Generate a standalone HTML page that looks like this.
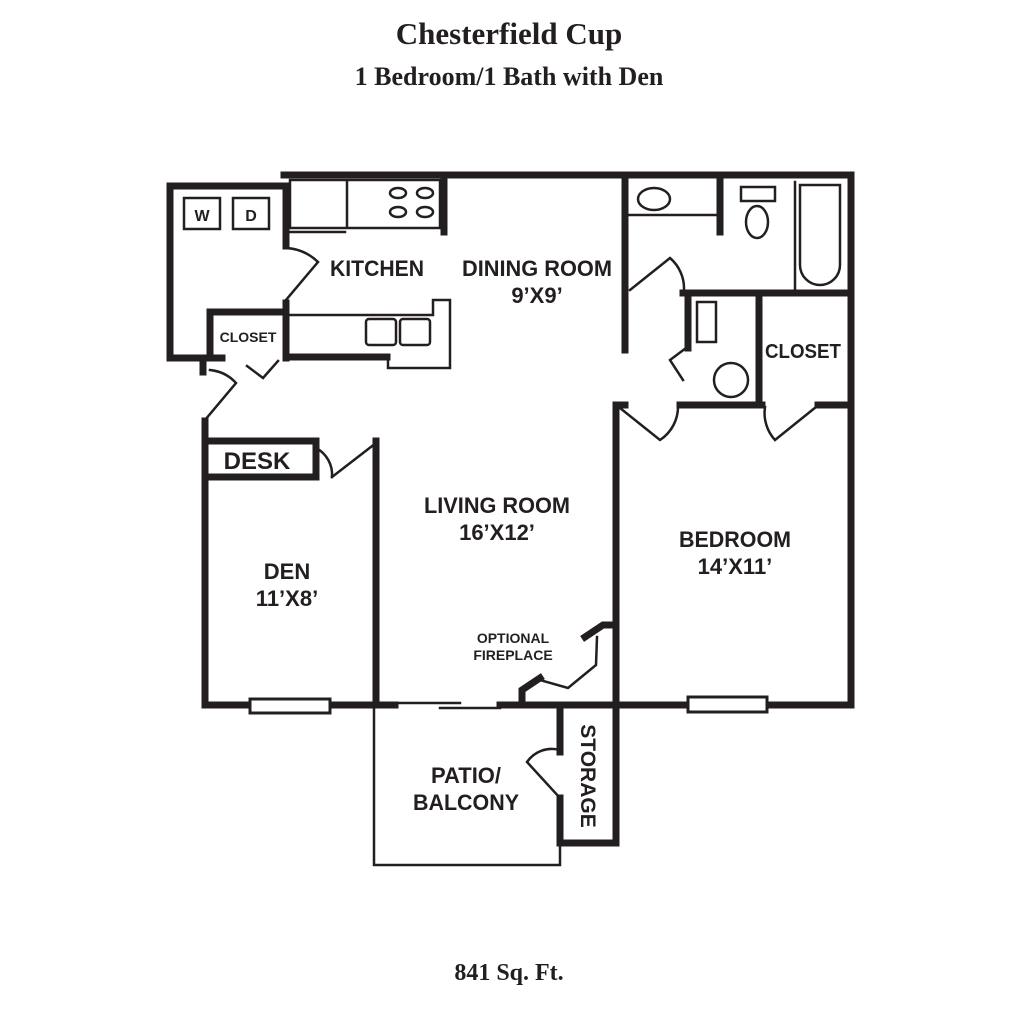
<!DOCTYPE html>
<html><head><style>
html,body{margin:0;padding:0;background:#fff}
svg{display:block}
.t{font-family:"Liberation Serif",serif;font-weight:bold;fill:#231f20}
.l{font-family:"Liberation Sans",sans-serif;font-weight:bold;fill:#231f20}
</style></head><body>
<svg width="1024" height="1024" viewBox="0 0 1024 1024" xmlns="http://www.w3.org/2000/svg">
<text class="t" x="509" y="44" font-size="31" text-anchor="middle">Chesterfield Cup</text>
<text class="t" x="509" y="85" font-size="26" text-anchor="middle">1 Bedroom/1 Bath with Den</text>
<text class="t" x="509" y="980" font-size="24" text-anchor="middle">841 Sq. Ft.</text>

<g stroke="#231f20" fill="none" stroke-linecap="square">
<g stroke-width="7">
<path d="M284 175 H851 V705"/>
<path d="M170 186 H286 V246 M286 303 V358 M170 186 V358 H222"/>
<path d="M210 358 V312 H286"/>
<path d="M286 357 H387"/>
<path d="M203 360 V372"/>
<path d="M205 421 V705 H250 M330 705 H395"/>
<path d="M500 705 H688 M767 705 H851"/>
<path d="M376 441 V705"/>
<path d="M205 441 H316 V477 H205"/>
<path d="M444 175 V232"/>
<path d="M625 175 V350"/>
<path d="M720 175 V232"/>
<path d="M683 293 H851"/>
<path d="M688 293 V348"/>
<path d="M759 293 V405"/>
<path d="M680 405 H762 M818 405 H851"/>
<path d="M616 405 V705 M616 405 H625"/>
<path d="M560 705 V752 M560 798 V843 H616 V705"/>
<path d="M614 625 H603 L585 637"/>
<path d="M540 678 L522 690 V705"/>
</g>
<g stroke-width="2.5">
<path d="M597 637 L596 665 L568 688 L540 680"/>
<path d="M290 180 H440 V228 H290 Z M347 180 V228"/>
<path d="M290 232 H345"/>
<path d="M290 315 H433 V300 H450 V368 H388 V355"/>
<rect x="366" y="319" width="30" height="26" rx="3"/>
<rect x="400" y="319" width="30" height="26" rx="3"/>
<rect x="184" y="198" width="36" height="31"/>
<rect x="233" y="198" width="36" height="31"/>
<ellipse cx="398" cy="193" rx="8" ry="5"/><ellipse cx="425" cy="193" rx="8" ry="5"/>
<ellipse cx="398" cy="212" rx="8" ry="5"/><ellipse cx="425" cy="212" rx="8" ry="5"/>
<path d="M625 215 H718"/>
<ellipse cx="654" cy="199" rx="16" ry="11"/>
<rect x="741" y="187" width="34" height="14"/>
<ellipse cx="757" cy="222" rx="11" ry="16"/>
<path d="M795 182 V290 M800 185 H840 V265 A20 20 0 0 1 800 265 Z"/>
<rect x="697" y="302" width="19" height="40"/>
<circle cx="731" cy="380" r="17"/>
<path d="M286 248 A50 50 0 0 1 318 262 M318 262 L286 300"/>
<path d="M210 370 A40 40 0 0 1 236 383 L205 420"/>
<path d="M247 366 L263 378 L278 361"/>
<path d="M316 448 A30 30 0 0 1 332 477 M332 477 L376 443"/>
<path d="M630 290 L670 258 A40 40 0 0 1 684 290"/>
<path d="M686 348 L670 360 L683 380"/>
<path d="M620 408 L660 440 A40 40 0 0 0 678 405"/>
<path d="M775 440 L816 407 M765 407 A40 40 0 0 0 775 440"/>
<path d="M560 750 A30 30 0 0 0 527 762 L560 798"/>
<path d="M374 705 V865 H560 V843"/>
<path d="M395 703 H460 M440 708 H500"/>
</g>
<rect x="250" y="699" width="80" height="14" fill="#fff" stroke-width="3"/>
<rect x="688" y="697" width="79" height="15" fill="#fff" stroke-width="3"/>
</g>

<g class="l">
<text x="202" y="221" font-size="16" text-anchor="middle">W</text>
<text x="251" y="221" font-size="16" text-anchor="middle">D</text>
<text x="377" y="276" font-size="22" text-anchor="middle" textLength="94" lengthAdjust="spacingAndGlyphs">KITCHEN</text>
<text x="537" y="276" font-size="22" text-anchor="middle" textLength="150" lengthAdjust="spacingAndGlyphs">DINING ROOM</text>
<text x="537" y="303" font-size="22" text-anchor="middle">9’X9’</text>
<text x="248" y="342" font-size="14" text-anchor="middle">CLOSET</text>
<text x="803" y="358" font-size="20" text-anchor="middle" textLength="76" lengthAdjust="spacingAndGlyphs">CLOSET</text>
<text x="257" y="469" font-size="24" text-anchor="middle">DESK</text>
<text x="497" y="513" font-size="22" text-anchor="middle" textLength="146" lengthAdjust="spacingAndGlyphs">LIVING ROOM</text>
<text x="497" y="540" font-size="22" text-anchor="middle">16’X12’</text>
<text x="735" y="547" font-size="22" text-anchor="middle" textLength="112" lengthAdjust="spacingAndGlyphs">BEDROOM</text>
<text x="735" y="574" font-size="22" text-anchor="middle">14’X11’</text>
<text x="287" y="579" font-size="22" text-anchor="middle">DEN</text>
<text x="287" y="606" font-size="22" text-anchor="middle">11’X8’</text>
<text x="513" y="643" font-size="14" text-anchor="middle">OPTIONAL</text>
<text x="513" y="660" font-size="14" text-anchor="middle">FIREPLACE</text>
<text x="466" y="783" font-size="22" text-anchor="middle">PATIO/</text>
<text x="466" y="810" font-size="22" text-anchor="middle" textLength="106" lengthAdjust="spacingAndGlyphs">BALCONY</text>
<text font-size="21" text-anchor="middle" transform="translate(581,776) rotate(90)">STORAGE</text>
</g>
</svg>
</body></html>
